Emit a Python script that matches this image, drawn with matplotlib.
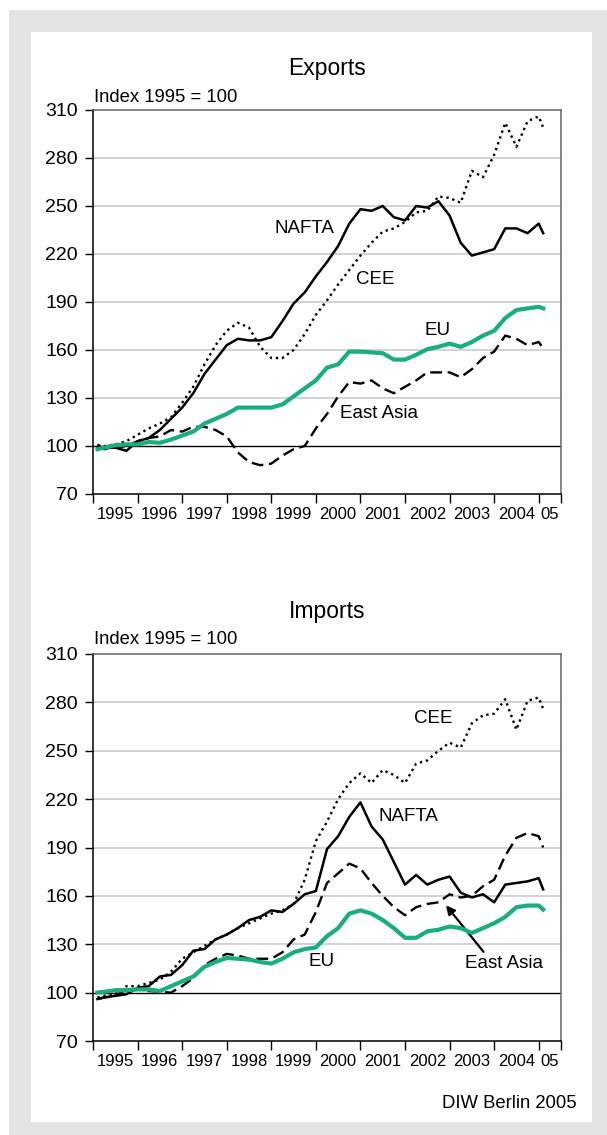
import numpy as np
import matplotlib
matplotlib.use("Agg")
import matplotlib.pyplot as plt
from matplotlib.patches import Rectangle

plt.rcParams['font.family'] = ['Liberation Sans', 'DejaVu Sans']

# time axis: Feb 1995, then quarter steps, last value Feb 2005
t = np.concatenate([[1995.1], np.arange(1995.25, 2005.01, 0.25), [2005.1]])

# Exports, index 1995 = 100
exp_nafta = [99, 99, 99, 97, 103, 105, 110, 117, 124, 133, 145, 154, 163, 167, 166, 166,
             168, 178, 189, 196, 206, 215, 225, 239, 248, 247, 250, 243, 241, 250, 249, 253,
             244, 227, 219, 221, 223, 236, 236, 233, 239, 233]
exp_cee = [100, 100, 101, 103, 107, 111, 114, 118, 127, 137, 151, 163, 172, 177, 174, 162,
           155, 155, 160, 170, 182, 191, 201, 210, 219, 227, 234, 236, 240, 246, 247, 256,
           255, 252, 272, 268, 282, 302, 287, 303, 306, 299]
exp_eu = [98, 99, 100.5, 101, 101, 102.5, 102, 104, 106.5, 109, 114, 117, 120, 124, 124, 124,
          124, 126, 131, 136, 141, 149, 151, 159, 159, 158.5, 158, 154, 154, 157, 160.5, 162,
          164, 162, 165, 169, 172, 180, 185, 186, 187, 186]
exp_asia = [101, 98, 99, 100, 103, 105, 106, 110, 109, 112, 112, 110, 106, 96, 90, 88,
            89, 94, 98, 100, 111, 120, 131, 140, 139, 141, 136, 133, 137, 141, 146, 146,
            146, 143, 148, 155, 159, 169, 167, 163, 165, 161]

# Imports, index 1995 = 100
imp_nafta = [96, 97, 98, 99, 103, 104, 110, 111, 117, 126, 127, 133, 136, 140, 145, 147,
             151, 150, 155, 161, 163, 189, 197, 209, 218, 203, 195, 181, 167, 173, 167, 170,
             172, 162, 159, 161, 156, 167, 168, 169, 171, 164]
imp_cee = [97, 98, 99, 104, 104, 106, 108, 113, 121, 125, 129, 133, 136, 140, 143, 146,
           149, 151, 155, 170, 194, 206, 220, 230, 236, 230, 238, 235, 230, 242, 244, 250,
           255, 252, 267, 272, 273, 282, 263, 281, 283, 276]
imp_eu = [100, 100.5, 101.5, 101.5, 102, 102, 101, 104, 107, 110, 116, 119, 121.5, 121, 120.5, 119,
          118, 121, 125, 127, 128, 135, 140, 149, 151, 149, 145, 140, 134, 134, 138, 139,
          141, 140, 137, 140, 143, 147, 153, 154, 154, 151.5]
imp_asia = [96, 97, 98, 102, 102, 101, 100.5, 100, 104, 109, 117, 121, 124, 123, 121, 121,
            121, 125, 133, 136, 150, 168, 174, 180, 177, 168, 160, 153, 148, 153, 155, 156,
            161, 159, 160, 166, 170, 185, 196, 199, 197, 190]

year_labels = ['1995', '1996', '1997', '1998', '1999', '2000', '2001', '2002', '2003', '2004', '05']
year_label_pos = [1995.5, 1996.5, 1997.5, 1998.5, 1999.5, 2000.5, 2001.5, 2002.5, 2003.5, 2004.5, 2005.25]
year_ticks = list(range(1995, 2006)) + [2005.5]
y_ticks = [70, 100, 130, 160, 190, 220, 250, 280, 310]

green = '#19ad80'
W, H = 607, 1135

fig = plt.figure(figsize=(W / 100, H / 100), dpi=100)
fig.patch.set_facecolor('white')
fig.patches.append(Rectangle((9 / W, 0), 1, 1 - 10 / H, transform=fig.transFigure,
                             facecolor='#e4e4e4', edgecolor='none', zorder=-10))
fig.patches.append(Rectangle((31 / W, 1 - 1122 / H), (592 - 31) / W, (1122 - 32) / H,
                             transform=fig.transFigure, facecolor='white', edgecolor='none', zorder=-9))


def panel(top, bottom, title, title_y, index_y, nafta, cee, eu, asia):
    ax = fig.add_axes([93 / W, 1 - bottom / H, (561 - 93) / W, (bottom - top) / H])
    ax.patch.set_alpha(0)
    for v in y_ticks[1:-1]:
        if v == 100:
            ax.axhline(v, color='black', lw=1.0, zorder=1)
        else:
            ax.axhline(v, color='#cfcfcf', lw=1.3, zorder=1)
    ax.plot(t, cee, color='black', lw=1.7, linestyle=(0, (1, 1.6)), zorder=3)
    ax.plot(t, asia, color='black', lw=1.7, linestyle=(0, (5, 2.4)), zorder=3)
    ax.plot(t, nafta, color='black', lw=1.8, zorder=3)
    ax.plot(t, eu, color=green, lw=3.0, zorder=4)
    ax.set_xlim(1995, 2005.5)
    ax.set_ylim(70, 310)
    ax.set_yticks(y_ticks)
    ax.tick_params(axis='y', length=6, width=1, pad=5, labelsize=14)
    ax.set_xticks(year_ticks)
    ax.set_xticklabels([])
    ax.set_xticks(year_label_pos, minor=True)
    ax.set_xticklabels(year_labels, minor=True)
    ax.tick_params(axis='x', which='major', length=6.5, width=1)
    ax.tick_params(axis='x', which='minor', length=0, pad=9.5, labelsize=12)
    for s in ['left', 'bottom']:
        ax.spines[s].set_color('black')
        ax.spines[s].set_linewidth(1.1)
    for s in ['top', 'right']:
        ax.spines[s].set_color('#666666')
        ax.spines[s].set_linewidth(1.1)
    fig.text(327 / W, 1 - title_y / H, title, ha='center', va='center', fontsize=16.5)
    fig.text(94 / W, 1 - index_y / H, 'Index 1995 = 100', ha='left', va='center', fontsize=13.3)
    return ax


ax1 = panel(110, 494, 'Exports', 68, 97, exp_nafta, exp_cee, exp_eu, exp_asia)
ax1.text(1999.75, 236, 'NAFTA', ha='center', va='center', fontsize=13.5)
ax1.text(2001.34, 204, 'CEE', ha='center', va='center', fontsize=13.5)
ax1.text(2002.72, 172, 'EU', ha='center', va='center', fontsize=13.5)
ax1.text(2001.41, 120, 'East Asia', ha='center', va='center', fontsize=13.5)

ax2 = panel(654, 1041, 'Imports', 611, 640, imp_nafta, imp_cee, imp_eu, imp_asia)
ax2.text(2002.63, 270, 'CEE', ha='center', va='center', fontsize=13.5)
ax2.text(2002.08, 209, 'NAFTA', ha='center', va='center', fontsize=13.5)
ax2.text(2000.13, 119, 'EU', ha='center', va='center', fontsize=13.5)
ax2.text(2004.22, 118, 'East Asia', ha='center', va='center', fontsize=13.5)
ax2.annotate('', xy=(2002.88, 155.5), xytext=(2003.8, 124),
             arrowprops=dict(arrowstyle='-|>', color='black', lw=1.6, mutation_scale=13))

fig.text(577 / W, 1 - 1103 / H, 'DIW Berlin 2005', ha='right', va='center', fontsize=13.3)

fig.savefig('out.png', dpi=100)
